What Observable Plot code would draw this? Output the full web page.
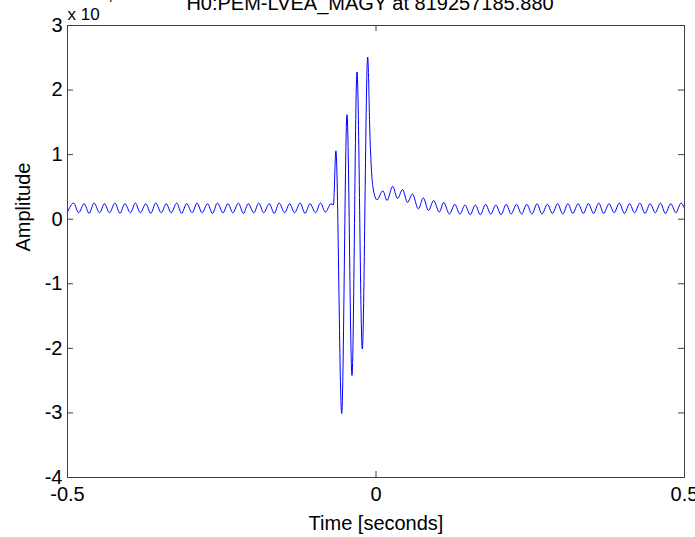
<!DOCTYPE html>
<html>
<head>
<meta charset="utf-8">
<script src="https://cdn.jsdelivr.net/npm/d3@7"></script>
<script src="https://cdn.jsdelivr.net/npm/@observablehq/plot@0.6"></script>
<style>
  html, body { margin: 0; padding: 0; background: white; }
  #chart { width: 695px; height: 537px; overflow: hidden; }
</style>
</head>
<body>
<div id="chart"></div>
<script>
// ---- Data ----
const titleText = "H0:PEM-LVEA_MAGY at 819257185.880";
const xLabel = "Time [seconds]";
const yLabel = "Amplitude";
const xTicks = [-0.5, 0, 0.5];
const yTicks = [-4, -3, -2, -1, 0, 1, 2, 3];
const exponentBase = "x 10";
const exponentPower = "-4";

const times = [
  -0.500, -0.490, -0.482, -0.473, -0.465, -0.457, -0.448, -0.440, -0.432, -0.423,
  -0.415, -0.407, -0.398, -0.390, -0.382, -0.373, -0.365, -0.357, -0.348, -0.340,
  -0.332, -0.323, -0.315, -0.307, -0.298, -0.290, -0.282, -0.273, -0.265, -0.257,
  -0.248, -0.240, -0.232, -0.223, -0.215, -0.207, -0.198, -0.190, -0.182, -0.173,
  -0.165, -0.157, -0.148, -0.140, -0.132, -0.123, -0.115, -0.107, -0.098, -0.090,
  -0.082, -0.073, -0.069, -0.065, -0.0556, -0.047, -0.0389, -0.0308, -0.0222, -0.0135,
  -0.0095, -0.005, 0.0016, 0.011, 0.018, 0.027, 0.035, 0.043, 0.051, 0.059,
  0.0686, 0.0767, 0.085, 0.0935, 0.1026, 0.1097, 0.119, 0.1277, 0.136, 0.1443,
  0.1527, 0.161, 0.169, 0.1777, 0.186, 0.1943, 0.2027, 0.211, 0.219, 0.2277,
  0.236, 0.2443, 0.2527, 0.261, 0.269, 0.2777, 0.286, 0.2943, 0.3027, 0.311,
  0.319, 0.3277, 0.336, 0.3443, 0.3527, 0.361, 0.369, 0.3777, 0.386, 0.3943,
  0.4027, 0.411, 0.419, 0.4277, 0.436, 0.4443, 0.4527, 0.461, 0.469, 0.4777,
  0.486, 0.4943, 0.500
];
const amplitudes = [
  0.11, 0.25, 0.10, 0.24, 0.09, 0.25, 0.10, 0.24, 0.10, 0.25,
  0.09, 0.24, 0.10, 0.25, 0.10, 0.24, 0.09, 0.25, 0.10, 0.24,
  0.10, 0.25, 0.09, 0.24, 0.10, 0.25, 0.10, 0.24, 0.09, 0.25,
  0.10, 0.24, 0.10, 0.25, 0.09, 0.24, 0.10, 0.25, 0.10, 0.24,
  0.09, 0.25, 0.10, 0.24, 0.10, 0.25, 0.09, 0.24, 0.10, 0.25,
  0.11, 0.24, 0.22, 1.06, -3.01, 1.62, -2.42, 2.28, -2.01, 2.51,
  1.20, 0.50, 0.30, 0.44, 0.29, 0.51, 0.32, 0.46, 0.26, 0.39,
  0.16, 0.33, 0.135, 0.29, 0.11, 0.26, 0.08, 0.23, 0.08, 0.22,
  0.07, 0.22, 0.07, 0.23, 0.08, 0.22, 0.07, 0.23, 0.08, 0.23,
  0.08, 0.23, 0.08, 0.24, 0.08, 0.23, 0.09, 0.24, 0.08, 0.24,
  0.09, 0.24, 0.09, 0.24, 0.09, 0.25, 0.09, 0.24, 0.10, 0.25,
  0.09, 0.24, 0.10, 0.25, 0.09, 0.24, 0.10, 0.25, 0.09, 0.24,
  0.10, 0.25, 0.17
];

// ---- Build table ----
const series = times.map((t, i) => ({t, v: amplitudes[i]}));

const W = 695, H = 537;
const mL = 67, mR = 11, mT = 25, mB = 60;
const axisColor = "#404040";
const xDom = [-0.5, 0.5], yDom = [-4, 3];
const tickPx = 6;
const tx = tickPx * (xDom[1] - xDom[0]) / (W - mL - mR);
const ty = tickPx * (yDom[1] - yDom[0]) / (H - mT - mB);

const chart = Plot.plot({
  width: W,
  height: H,
  marginLeft: mL,
  marginRight: mR,
  marginTop: mT,
  marginBottom: mB,
  style: {fontFamily: "'Liberation Sans', Arial, Helvetica, sans-serif", fontSize: "20px", background: "white", color: "#000"},
  x: {domain: xDom},
  y: {domain: yDom},
  marks: [
    Plot.line(series, {x: "t", y: "v", stroke: "#0000ff", strokeWidth: 1, curve: "monotone-x"}),
    Plot.frame({stroke: axisColor, strokeWidth: 1}),
    // inside ticks (bottom/top, left/right)
    Plot.ruleX(xTicks, {y1: yDom[0], y2: yDom[0] + ty, stroke: axisColor}),
    Plot.ruleX(xTicks, {y1: yDom[1], y2: yDom[1] - ty, stroke: axisColor}),
    Plot.ruleY(yTicks, {x1: xDom[0], x2: xDom[0] + tx, stroke: axisColor}),
    Plot.ruleY(yTicks, {x1: xDom[1], x2: xDom[1] - tx, stroke: axisColor}),
    Plot.axisX({ticks: xTicks, tickSize: 0, tickPadding: 9, label: null, tickFormat: d => String(d), fontSize: 20}),
    Plot.axisY({ticks: yTicks, tickSize: 0, tickPadding: 5, label: null, tickFormat: d => String(d), fontSize: 20}),
    Plot.text([xLabel], {frameAnchor: "bottom", dy: 46, lineAnchor: "middle", fontSize: 20, fill: "#000"}),
    Plot.text([yLabel], {frameAnchor: "left", dx: -44, rotate: -90, lineAnchor: "middle", fontSize: 20, fill: "#000"}),
    Plot.text([titleText], {frameAnchor: "top", dx: -6, dy: -16, lineAnchor: "bottom", fontSize: 20, fill: "#000"}),
    Plot.text([exponentBase], {frameAnchor: "top-left", dx: 0, dy: -6, textAnchor: "start", lineAnchor: "bottom", fontSize: 17, fill: "#000"}),
    Plot.text([exponentPower], {frameAnchor: "top-left", dx: 34, dy: -24, textAnchor: "start", lineAnchor: "bottom", fontSize: 13, fill: "#000"})
  ]
});
document.getElementById("chart").appendChild(chart);
</script>
</body>
</html>
